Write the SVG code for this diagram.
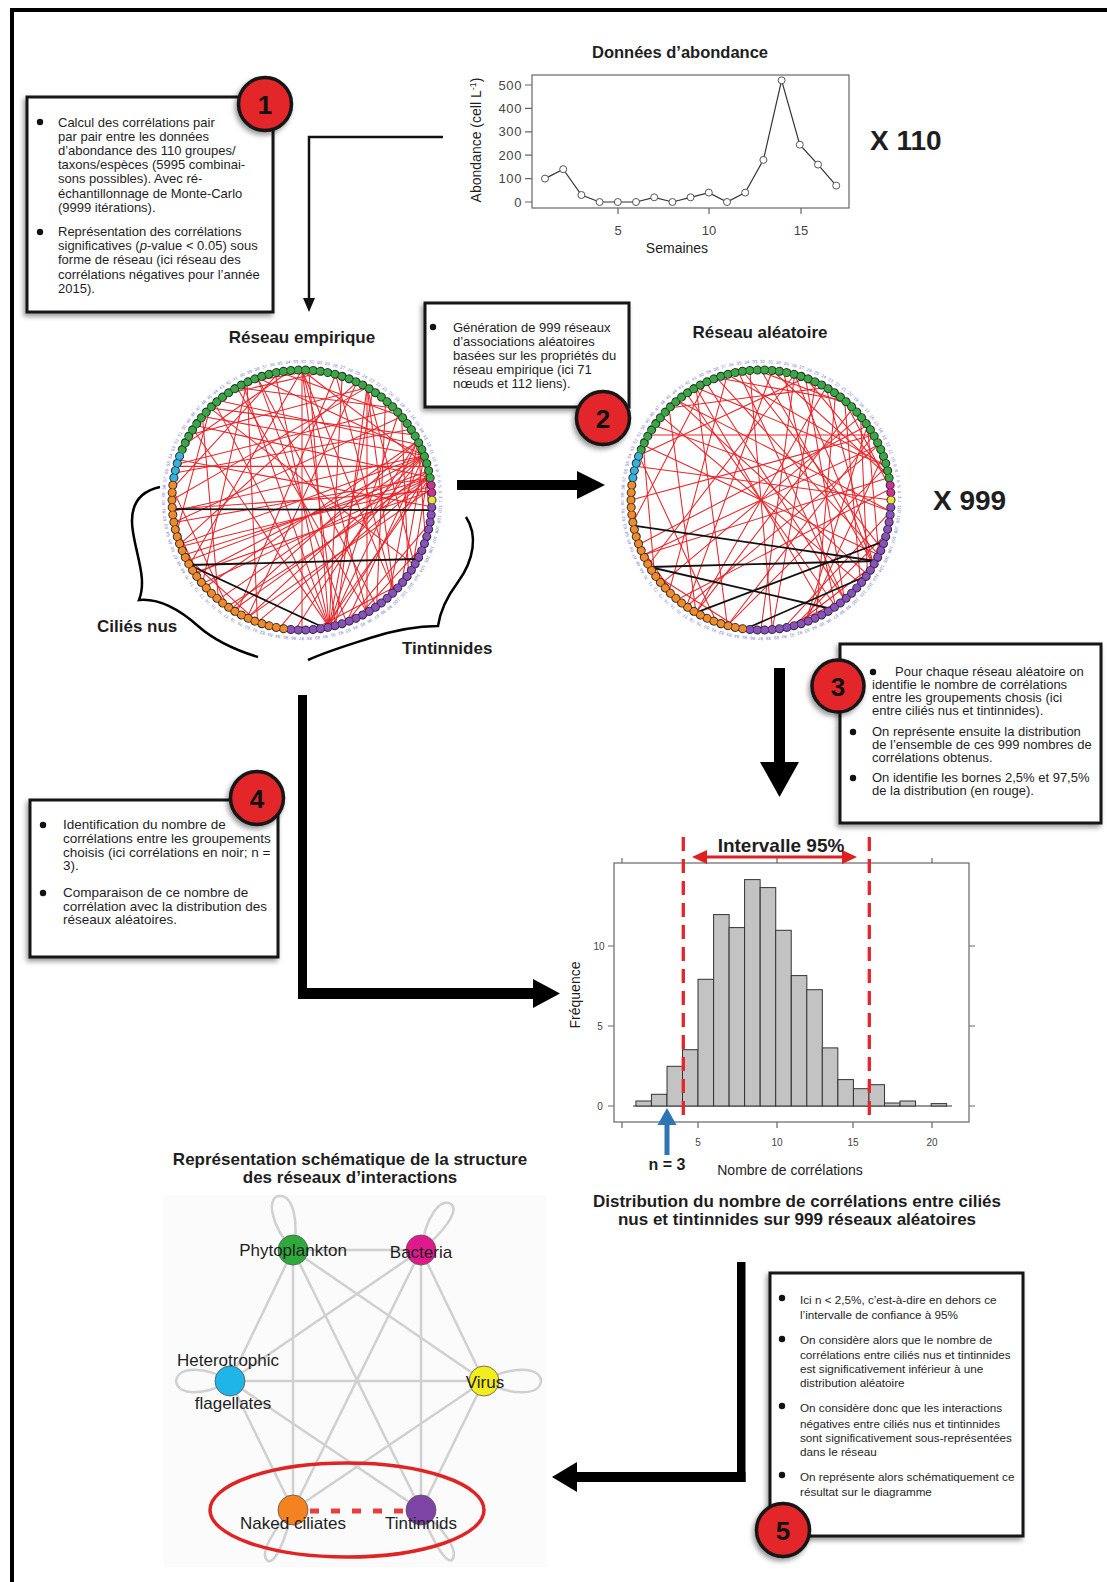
<svg xmlns="http://www.w3.org/2000/svg" width="1107" height="1582" viewBox="0 0 1107 1582">
<style>
.t{font-family:"Liberation Sans",Arial,sans-serif;fill:#1e1e1e}
.b{font-weight:bold}
.bx{fill:#fff;stroke:#151515;stroke-width:3}
.bul{fill:#111}
.bc{fill:#e3252b;stroke:#151515;stroke-width:3.5}
.bn{font-family:"Liberation Sans",Arial,sans-serif;font-weight:bold;font-size:26px;fill:#111;text-anchor:middle}
.red{stroke:#e8262b;stroke-width:1.05;fill:none}
.blk{stroke:#111;stroke-width:1.8}
.thick{fill:#000}
.sg{stroke:#d0d0d0;stroke-width:2.5;fill:none}
.ax{stroke:#666;stroke-width:1.2;fill:none}
.tk{font-family:"Liberation Sans",Arial,sans-serif;fill:#444}
.dot{fill:none;stroke-linecap:round;stroke-dasharray:0.01 7.416;stroke-width:7}
</style>
<defs>
<filter id="sh" x="-15%" y="-15%" width="135%" height="135%"><feDropShadow dx="-2" dy="3" stdDeviation="2.5" flood-color="#000" flood-opacity=".4"/></filter>
<line id="c30" x1="130" y1="0" x2="112.6" y2="65"/>
<line id="c45" x1="130" y1="0" x2="91.9" y2="91.9"/>
<line id="c60" x1="130" y1="0" x2="65" y2="112.6"/>
<line id="c75" x1="130" y1="0" x2="33.6" y2="125.6"/>
<line id="c90" x1="130" y1="0" x2="0" y2="130"/>
<line id="c105" x1="130" y1="0" x2="-33.6" y2="125.6"/>
<line id="c120" x1="130" y1="0" x2="-65" y2="112.6"/>
<line id="c135" x1="130" y1="0" x2="-91.9" y2="91.9"/>
<line id="c150" x1="130" y1="0" x2="-112.6" y2="65"/>
<line id="c165" x1="130" y1="0" x2="-125.6" y2="33.6"/>
<line id="c180" x1="130" y1="0" x2="-130" y2="0"/>
<path id="lp" d="M137,0A137,137 0 1,1 -137,0A137,137 0 1,1 137,0" fill="none"/>
<g id="ring">
<circle r="130" pathLength="110" fill="none" stroke="#2d2d2d" stroke-width="9" stroke-linecap="round" stroke-dasharray="0.01 0.99"/>
<path class="dot" stroke="#cf2f98" d="M129.8,-7.4A130,130 0 0 0 128.9,-17"/>
<path class="dot" stroke="#38a845" d="M128.1,-22.2A130,130 0 0 0 -120.95,-47.6"/>
<path class="dot" stroke="#35b3e0" d="M-122.4,-43.7A130,130 0 0 0 -128.6,-19.2"/>
<path class="dot" stroke="#f28a2a" d="M-129.2,-14.8A130,130 0 0 0 -15.8,129"/>
<path class="dot" stroke="#8a50c0" d="M-11.1,129.5A130,130 0 0 0 129.9,4.5"/>
<circle cx="130" cy="0" r="3.5" fill="#ece33a"/>
<text font-family="Liberation Sans,Arial,sans-serif" font-size="4.5" fill="#7a7acc" word-spacing="1.55"><textPath href="#lp">1 110 109 108 107 106 105 104 103 102 101 100 99 98 97 96 95 94 93 92 91 90 89 88 87 86 85 84 83 82 81 80 79 78 77 76 75 74 73 72 71 70 69 68 67 66 65 64 63 62 61 60 59 58 57 56 55 54 53 52 51 50 49 48 47 46 45 44 43 42 41 40 39 38 37 36 35 34 33 32 31 30 29 28 27 26 25 24 23 22 21 20 19 18 17 16 15 14 13 12 11 10 9 8 7 6 5 4 3 2</textPath></text>
</g>
</defs>
<rect width="1107" height="1582" fill="#fff"/>
<rect x="12" y="10" width="1120" height="1600" fill="none" stroke="#000" stroke-width="4"/>

<!-- Abundance chart -->
<g id="abundance-chart">
<text class="t b" x="680" y="58" font-size="16.5" text-anchor="middle">Données d’abondance</text>
<rect x="532" y="75" width="317" height="133" class="ax"/>
<g class="ax"><path d="M525,202H532M525,178.6H532M525,155.2H532M525,131.8H532M525,108.4H532M525,85H532M618,208V214M709,208V214M801,208V214"/></g>
<g class="tk" font-size="13" text-anchor="end" letter-spacing="0.6">
<text x="522" y="206.5">0</text><text x="522" y="183">100</text><text x="522" y="159.7">200</text><text x="522" y="136.3">300</text><text x="522" y="113">400</text><text x="522" y="89.5">500</text>
</g>
<g class="tk" font-size="13" text-anchor="middle"><text x="618" y="235">5</text><text x="709" y="235">10</text><text x="801" y="235">15</text></g>
<text class="t" x="677" y="253" font-size="14" text-anchor="middle" fill="#333">Semaines</text>
<text class="t" font-size="14" text-anchor="middle" fill="#333" transform="translate(481,140) rotate(-90)">Abondance (cell L<tspan font-size="9" dy="-5">-1</tspan><tspan dy="5">)</tspan></text>
<polyline fill="none" stroke="#333" stroke-width="1.2" points="545,178.6 563.2,169.2 581.4,195 599.6,202 617.8,202 636,202 654.2,197.3 672.4,202 690.6,197.3 708.8,192.6 727,202 745.2,192.6 763.4,159.9 781.6,80.3 799.8,144.7 818,164.6 836.2,185.6"/>
<g fill="#fff" stroke="#555" stroke-width="1">
<circle cx="545" cy="178.6" r="3.5"/><circle cx="563.2" cy="169.2" r="3.5"/><circle cx="581.4" cy="195" r="3.5"/><circle cx="599.6" cy="202" r="3.5"/><circle cx="617.8" cy="202" r="3.5"/><circle cx="636" cy="202" r="3.5"/><circle cx="654.2" cy="197.3" r="3.5"/><circle cx="672.4" cy="202" r="3.5"/><circle cx="690.6" cy="197.3" r="3.5"/><circle cx="708.8" cy="192.6" r="3.5"/><circle cx="727" cy="202" r="3.5"/><circle cx="745.2" cy="192.6" r="3.5"/><circle cx="763.4" cy="159.9" r="3.5"/><circle cx="781.6" cy="80.3" r="3.5"/><circle cx="799.8" cy="144.7" r="3.5"/><circle cx="818" cy="164.6" r="3.5"/><circle cx="836.2" cy="185.6" r="3.5"/>
</g>
<text class="t b" x="870" y="150" font-size="28" fill="#111">X 110</text>
</g>

<!-- Box 1 -->
<g id="box1">
<rect class="bx" x="27" y="97" width="246" height="215" filter="url(#sh)"/>
<circle class="bul" cx="40" cy="122" r="3.2"/><circle class="bul" cx="40" cy="232" r="3.2"/>
<g class="t" font-size="13">
<text x="58" y="126.5">Calcul des corrélations pair</text>
<text x="58" y="140.7">par pair entre les données</text>
<text x="58" y="154.9">d’abondance des 110 groupes/</text>
<text x="58" y="169.1">taxons/espèces (5995 combinai-</text>
<text x="58" y="183.3">sons possibles). Avec ré-</text>
<text x="58" y="197.5">échantillonnage de Monte-Carlo</text>
<text x="58" y="211.7">(9999 itérations).</text>
<text x="58" y="236">Représentation des corrélations</text>
<text x="58" y="250.2">significatives (<tspan font-style="italic">p</tspan>-value &lt; 0.05) sous</text>
<text x="58" y="264.4">forme de réseau (ici réseau des</text>
<text x="58" y="278.6">corrélations négatives pour l’année</text>
<text x="58" y="292.8">2015).</text>
</g>
<g filter="url(#sh)"><circle class="bc" cx="265" cy="104" r="26.5"/></g>
<text class="bn" x="265" y="113.5">1</text>
</g>

<!-- Empirical network -->
<g id="empirical-network">
<text class="t b" x="302" y="343" font-size="17" text-anchor="middle" fill="#111">Réseau empirique</text>
<g transform="translate(302,500)">
<g class="red">
<use href="#c30" transform="rotate(340)"/><use href="#c60" transform="rotate(340)"/><use href="#c90" transform="rotate(340)"/><use href="#c120" transform="rotate(340)"/><use href="#c135" transform="rotate(340)"/><use href="#c150" transform="rotate(340)"/><use href="#c165" transform="rotate(340)"/><use href="#c180" transform="rotate(340)"/>
<use href="#c45" transform="rotate(333)"/><use href="#c75" transform="rotate(333)"/><use href="#c105" transform="rotate(333)"/><use href="#c120" transform="rotate(333)"/><use href="#c150" transform="rotate(333)"/><use href="#c165" transform="rotate(333)"/>
<use href="#c45" transform="rotate(347)"/><use href="#c90" transform="rotate(347)"/><use href="#c135" transform="rotate(347)"/><use href="#c165" transform="rotate(347)"/>
<use href="#c90" transform="rotate(350)"/><use href="#c120" transform="rotate(350)"/><use href="#c135" transform="rotate(350)"/><use href="#c150" transform="rotate(350)"/><use href="#c165" transform="rotate(350)"/><use href="#c180" transform="rotate(350)"/>
<use href="#c135" transform="rotate(78)"/><use href="#c150" transform="rotate(78)"/><use href="#c165" transform="rotate(78)"/><use href="#c180" transform="rotate(78)"/>
<use href="#c120" transform="rotate(318)"/><use href="#c135" transform="rotate(303)"/><use href="#c150" transform="rotate(288)"/><use href="#c165" transform="rotate(273)"/>
<use href="#c90" transform="rotate(130)"/><use href="#c120" transform="rotate(150)"/><use href="#c135" transform="rotate(160)"/><use href="#c150" transform="rotate(170)"/><use href="#c165" transform="rotate(120)"/><use href="#c165" transform="rotate(175)"/><use href="#c105" transform="rotate(140)"/><use href="#c75" transform="rotate(185)"/><use href="#c180" transform="rotate(115)"/><use href="#c60" transform="rotate(165)"/><use href="#c120" transform="rotate(180)"/><use href="#c135" transform="rotate(110)"/>
<use href="#c150" transform="rotate(195)"/><use href="#c135" transform="rotate(192)"/><use href="#c165" transform="rotate(198)"/><use href="#c120" transform="rotate(196)"/>
<use href="#c90" transform="rotate(210)"/><use href="#c120" transform="rotate(220)"/><use href="#c105" transform="rotate(230)"/><use href="#c75" transform="rotate(240)"/><use href="#c90" transform="rotate(250)"/><use href="#c135" transform="rotate(215)"/><use href="#c60" transform="rotate(260)"/><use href="#c60" transform="rotate(205)"/><use href="#c45" transform="rotate(235)"/><use href="#c75" transform="rotate(270)"/><use href="#c105" transform="rotate(225)"/><use href="#c30" transform="rotate(245)"/>
<use href="#c90" transform="rotate(300)"/><use href="#c105" transform="rotate(300)"/><use href="#c120" transform="rotate(300)"/><use href="#c135" transform="rotate(300)"/><use href="#c135" transform="rotate(270)"/><use href="#c150" transform="rotate(270)"/><use href="#c165" transform="rotate(270)"/><use href="#c180" transform="rotate(270)"/><use href="#c165" transform="rotate(250)"/><use href="#c180" transform="rotate(250)"/><use href="#c120" transform="rotate(285)"/><use href="#c75" transform="rotate(320)"/><use href="#c105" transform="rotate(310)"/><use href="#c165" transform="rotate(225)"/><use href="#c180" transform="rotate(240)"/>
<use href="#c45" transform="rotate(20)"/><use href="#c60" transform="rotate(10)"/><use href="#c45" transform="rotate(40)"/>
<use href="#c45" transform="rotate(110)"/><use href="#c60" transform="rotate(125)"/><use href="#c30" transform="rotate(140)"/>
<use href="#c180" transform="rotate(176)"/><use href="#c120" transform="rotate(355)"/><use href="#c150" transform="rotate(356)"/><use href="#c165" transform="rotate(354)"/>
</g>
<g class="blk">
<line x1="-129.7" y1="9.1" x2="129.6" y2="10.2"/>
<line x1="-112.6" y1="65" x2="115.8" y2="59"/>
<line x1="-112.6" y1="65" x2="22.6" y2="128"/>
</g>
<use href="#ring"/>
</g>
<path d="M160,487C137,492 129,508 133,532C137,558 147,580 139,600C160,598 180,610 198,626C215,641 235,650 258,657" fill="none" stroke="#000" stroke-width="2.5"/>
<path d="M466,517C478,535 474,560 458,582C446,598 440,612 438,626C420,626 395,630 370,638C345,646 325,652 308,660" fill="none" stroke="#000" stroke-width="2.5"/>
<text class="t b" x="97" y="632" font-size="17" fill="#111">Ciliés nus</text>
<text class="t b" x="402" y="654" font-size="17" fill="#111">Tintinnides</text>
</g>

<!-- Box 2 -->
<g id="box2">
<rect class="bx" x="425" y="303" width="204" height="104" filter="url(#sh)"/>
<circle class="bul" cx="433" cy="327" r="3.2"/>
<g class="t" font-size="13">
<text x="453" y="332">Génération de 999 réseaux</text>
<text x="453" y="346">d’associations aléatoires</text>
<text x="453" y="360">basées sur les propriétés du</text>
<text x="453" y="374">réseau empirique (ici 71</text>
<text x="453" y="388">nœuds et 112 liens).</text>
</g>
<g filter="url(#sh)"><circle class="bc" cx="603" cy="418" r="26.5"/></g>
<text class="bn" x="603" y="427.5">2</text>
</g>

<!-- Random network -->
<g id="random-network">
<text class="t b" x="760" y="338" font-size="17" text-anchor="middle" fill="#111">Réseau aléatoire</text>
<g transform="translate(761,500)">
<g class="red">
<use href="#c90" transform="rotate(200)"/><use href="#c120" transform="rotate(210)"/><use href="#c150" transform="rotate(215)"/><use href="#c75" transform="rotate(225)"/><use href="#c135" transform="rotate(230)"/><use href="#c105" transform="rotate(240)"/><use href="#c165" transform="rotate(245)"/><use href="#c60" transform="rotate(250)"/><use href="#c90" transform="rotate(255)"/><use href="#c120" transform="rotate(262)"/><use href="#c45" transform="rotate(268)"/><use href="#c75" transform="rotate(275)"/><use href="#c135" transform="rotate(280)"/><use href="#c105" transform="rotate(285)"/><use href="#c60" transform="rotate(290)"/><use href="#c150" transform="rotate(295)"/><use href="#c90" transform="rotate(300)"/><use href="#c120" transform="rotate(305)"/><use href="#c45" transform="rotate(310)"/><use href="#c165" transform="rotate(315)"/><use href="#c75" transform="rotate(320)"/><use href="#c105" transform="rotate(325)"/><use href="#c135" transform="rotate(330)"/><use href="#c150" transform="rotate(335)"/><use href="#c90" transform="rotate(340)"/><use href="#c120" transform="rotate(345)"/><use href="#c165" transform="rotate(350)"/><use href="#c135" transform="rotate(355)"/>
<use href="#c180" transform="rotate(205)"/><use href="#c180" transform="rotate(235)"/><use href="#c180" transform="rotate(265)"/><use href="#c180" transform="rotate(300)"/><use href="#c180" transform="rotate(320)"/><use href="#c180" transform="rotate(335)"/>
<use href="#c90" transform="rotate(110)"/><use href="#c105" transform="rotate(120)"/><use href="#c120" transform="rotate(135)"/><use href="#c135" transform="rotate(150)"/><use href="#c165" transform="rotate(160)"/><use href="#c75" transform="rotate(170)"/><use href="#c150" transform="rotate(180)"/><use href="#c150" transform="rotate(125)"/><use href="#c135" transform="rotate(105)"/><use href="#c60" transform="rotate(145)"/><use href="#c45" transform="rotate(100)"/><use href="#c30" transform="rotate(130)"/>
<use href="#c60" transform="rotate(15)"/><use href="#c45" transform="rotate(30)"/><use href="#c75" transform="rotate(5)"/><use href="#c30" transform="rotate(50)"/>
<use href="#c150" transform="rotate(260)"/><use href="#c120" transform="rotate(270)"/><use href="#c165" transform="rotate(285)"/><use href="#c135" transform="rotate(250)"/><use href="#c165" transform="rotate(230)"/><use href="#c90" transform="rotate(310)"/><use href="#c60" transform="rotate(325)"/><use href="#c180" transform="rotate(240)"/><use href="#c120" transform="rotate(290)"/><use href="#c180" transform="rotate(220)"/><use href="#c165" transform="rotate(195)"/>
</g>
<g class="blk">
<line x1="-127.4" y1="25.7" x2="114.8" y2="61"/>
<line x1="-111.4" y1="67" x2="114.8" y2="61"/>
<line x1="-111.4" y1="67" x2="70.8" y2="109"/>
<line x1="-65" y1="112.6" x2="123.4" y2="41"/>
<line x1="-15.8" y1="129" x2="105.7" y2="75.7"/>
</g>
<use href="#ring"/>
</g>
<text class="t b" x="933" y="510" font-size="28" fill="#111">X 999</text>
</g>

<!-- Box 3 -->
<g id="box3">
<rect class="bx" x="840" y="644" width="261" height="179" filter="url(#sh)"/>
<circle class="bul" cx="873" cy="672" r="3.2"/><circle class="bul" cx="853" cy="732" r="3.2"/><circle class="bul" cx="853" cy="778" r="3.2"/>
<g class="t" font-size="13">
<text x="895" y="676">Pour chaque réseau aléatoire on</text>
<text x="872" y="689">identifie le nombre de corrélations</text>
<text x="872" y="702">entre les groupements chosis (ici</text>
<text x="872" y="715">entre ciliés nus et tintinnides).</text>
<text x="872" y="736">On représente ensuite la distribution</text>
<text x="872" y="749">de l’ensemble de ces 999 nombres de</text>
<text x="872" y="762">corrélations obtenus.</text>
<text x="872" y="782">On identifie les bornes 2,5% et 97,5%</text>
<text x="872" y="795">de la distribution (en rouge).</text>
</g>
<g filter="url(#sh)"><circle class="bc" cx="838" cy="686" r="26"/></g>
<text class="bn" x="838" y="695.5">3</text>
</g>

<!-- Box 4 -->
<g id="box4">
<rect class="bx" x="30" y="800" width="248" height="157" filter="url(#sh)"/>
<circle class="bul" cx="43" cy="825" r="3.2"/><circle class="bul" cx="43" cy="893" r="3.2"/>
<g class="t" font-size="13.5">
<text x="63" y="829">Identification du nombre de</text>
<text x="63" y="843">corrélations entre les groupements</text>
<text x="63" y="857">choisis (ici corrélations en noir; n =</text>
<text x="63" y="870">3).</text>
<text x="63" y="897">Comparaison de ce nombre de</text>
<text x="63" y="911">corrélation avec la distribution des</text>
<text x="63" y="924">réseaux aléatoires.</text>
</g>
<g filter="url(#sh)"><circle class="bc" cx="257" cy="798" r="26.5"/></g>
<text class="bn" x="257" y="807.5">4</text>
</g>

<!-- Histogram -->
<g id="histogram">
<rect x="614" y="863" width="355" height="259" class="ax"/>
<g class="ax"><path d="M608,1106H614M608,1026H614M608,946H614M969,1106H975M969,1026H975M969,946H975M622,1122V1128M698,1122V1128M777,1122V1128M853,1122V1128M932,1122V1128M622,863V858M777,863V858M932,863V858"/></g>
<g class="tk" font-size="10" text-anchor="middle"><text x="600" y="1110">0</text><text x="600" y="1030">5</text><text x="599" y="950">10</text>
<text x="698" y="1146">5</text><text x="777" y="1146">10</text><text x="853" y="1146">15</text><text x="932" y="1146">20</text></g>
<line x1="633" y1="1106" x2="952" y2="1106" stroke="#333" stroke-width="1.2"/>
<g fill="#c3c3c3" stroke="#333" stroke-width="1">
<rect x="635.9" y="1101" width="15.53" height="5"/>
<rect x="651.4" y="1094.3" width="15.53" height="11.7"/>
<rect x="667" y="1066.3" width="15.53" height="39.7"/>
<rect x="682.5" y="1049.7" width="15.53" height="56.3"/>
<rect x="698" y="979.3" width="15.53" height="126.7"/>
<rect x="713.6" y="914.6" width="15.53" height="191.4"/>
<rect x="729.1" y="927.6" width="15.53" height="178.4"/>
<rect x="744.6" y="879.6" width="15.53" height="226.4"/>
<rect x="760.2" y="887.6" width="15.53" height="218.4"/>
<rect x="775.7" y="930.3" width="15.53" height="175.7"/>
<rect x="791.3" y="975.6" width="15.53" height="130.4"/>
<rect x="806.8" y="989.7" width="15.53" height="116.3"/>
<rect x="822.3" y="1047.9" width="15.53" height="58.1"/>
<rect x="837.9" y="1079.6" width="15.53" height="26.4"/>
<rect x="853.4" y="1088.7" width="15.53" height="17.3"/>
<rect x="869" y="1084.7" width="15.53" height="21.3"/>
<rect x="884.5" y="1103" width="15.53" height="3"/>
<rect x="900" y="1101" width="15.53" height="5"/>
<rect x="931.1" y="1103.6" width="15.53" height="2.4"/>
</g>
<g stroke="#e5242b" stroke-width="3.3" stroke-dasharray="14 8"><line x1="683.3" y1="837" x2="683.3" y2="1120"/><line x1="869.3" y1="837" x2="869.3" y2="1120"/></g>
<line x1="702" y1="857" x2="847" y2="857" stroke="#e02020" stroke-width="3"/>
<polygon points="692,857 707,850 707,864" fill="#e02020"/>
<polygon points="857,857 842,850 842,864" fill="#e02020"/>
<text class="t b" x="781" y="852" font-size="19" text-anchor="middle" fill="#111">Intervalle 95%</text>
<text class="t" font-size="14" text-anchor="middle" fill="#333" transform="translate(580,995) rotate(-90)">Fréquence</text>
<text class="t" x="790" y="1175" font-size="14" text-anchor="middle" fill="#333">Nombre de corrélations</text>
<rect x="664.5" y="1123" width="5" height="32" fill="#2f74b5"/>
<polygon points="657.5,1125 676.5,1125 667,1108" fill="#2f74b5"/>
<text class="t b" x="667" y="1170" font-size="16" text-anchor="middle" fill="#111">n = 3</text>
<text class="t b" x="797" y="1207" font-size="17" text-anchor="middle" fill="#111">Distribution du nombre de corrélations entre ciliés</text>
<text class="t b" x="797" y="1225" font-size="17" text-anchor="middle" fill="#111">nus et tintinnides sur 999 réseaux aléatoires</text>
</g>

<!-- Schematic -->
<g id="schematic">
<text class="t b" x="350" y="1165" font-size="17" text-anchor="middle" fill="#111">Représentation schématique de la structure</text>
<text class="t b" x="350" y="1183" font-size="17" text-anchor="middle" fill="#111">des réseaux d’interactions</text>
<rect x="163" y="1195" width="384" height="372" fill="#fbfbfb"/>
<g class="sg">
<path d="M293,1250L421,1250M293,1250L230,1381M293,1250L293,1510M293,1250L421,1510M293,1250L484,1381M421,1250L230,1381M421,1250L293,1510M421,1250L421,1510M421,1250L484,1381M230,1381L484,1381M230,1381L293,1510M230,1381L421,1510M484,1381L293,1510M484,1381L421,1510"/>
<path d="M293,1250C270,1225 266,1196 280,1196C294,1196 299,1225 293,1250Z"/>
<path d="M421,1250C426,1216 440,1198 451,1204C460,1211 442,1234 421,1250Z"/>
<path d="M230,1381C205,1366 178,1366 176,1381C178,1396 205,1396 230,1381Z"/>
<path d="M484,1381C510,1366 540,1366 541,1381C540,1396 510,1396 484,1381Z"/>
<path d="M293,1510C286,1536 276,1564 268,1561C259,1555 272,1530 293,1510Z"/>
<path d="M421,1510C430,1536 445,1564 452,1560C459,1551 445,1530 421,1510Z"/>
</g>
<line x1="310" y1="1511" x2="407" y2="1511" stroke="#e5403f" stroke-width="5" stroke-dasharray="9 12"/>
<g stroke="#555" stroke-width="0.8">
<circle cx="293" cy="1250" r="15" fill="#2eaa3c"/>
<circle cx="421" cy="1250" r="15" fill="#e0198c"/>
<circle cx="230" cy="1381" r="15" fill="#1fb5e8"/>
<circle cx="484" cy="1381" r="15" fill="#f3ec1e"/>
<circle cx="293" cy="1510" r="15" fill="#f58220"/>
<circle cx="421" cy="1510" r="15" fill="#7d44a6"/>
</g>
<g class="t" font-size="17" text-anchor="middle" fill="#333">
<text x="293" y="1256">Phytoplankton</text>
<text x="421" y="1258">Bacteria</text>
<text x="228" y="1366">Heterotrophic</text>
<text x="233" y="1409">flagellates</text>
<text x="485" y="1388">Virus</text>
<text x="293" y="1529">Naked ciliates</text>
<text x="421" y="1529">Tintinnids</text>
</g>
<ellipse cx="347" cy="1510" rx="137" ry="47" fill="none" stroke="#e02424" stroke-width="3.5"/>
</g>

<!-- Box 5 -->
<g id="box5">
<rect class="bx" x="770" y="1273" width="253" height="263" filter="url(#sh)"/>
<circle class="bul" cx="782" cy="1298" r="3.2"/><circle class="bul" cx="782" cy="1339" r="3.2"/><circle class="bul" cx="782" cy="1406" r="3.2"/><circle class="bul" cx="782" cy="1475" r="3.2"/>
<g class="t" font-size="11.7">
<text x="800" y="1304">Ici n &lt; 2,5%, c’est-à-dire en dehors ce</text>
<text x="800" y="1319">l’intervalle de confiance à 95%</text>
<text x="800" y="1344">On considère alors que le nombre de</text>
<text x="800" y="1359">corrélations entre ciliés nus et tintinnides</text>
<text x="800" y="1373">est  significativement inférieur à une</text>
<text x="800" y="1387">distribution aléatoire</text>
<text x="800" y="1412">On considère donc que les interactions</text>
<text x="800" y="1428">négatives entre ciliés nus et tintinnides</text>
<text x="800" y="1442">sont significativement sous-représentées</text>
<text x="800" y="1456">dans le réseau</text>
<text x="800" y="1481">On représente alors schématiquement ce</text>
<text x="800" y="1496">résultat sur le diagramme</text>
</g>
<g filter="url(#sh)"><circle class="bc" cx="783" cy="1530" r="26.5"/></g>
<text class="bn" x="783" y="1539.5">5</text>
</g>

<!-- Connectors -->
<g id="connectors">
<path d="M443,137H309V300" fill="none" stroke="#111" stroke-width="2.5"/>
<polygon points="303,298 315,298 309,312" fill="#111"/>
<rect class="thick" x="457" y="480" width="121" height="10"/>
<polygon class="thick" points="577,471 605,485 577,499"/>
<rect class="thick" x="774" y="668" width="11" height="96"/>
<polygon class="thick" points="760,762 799,762 779.5,797"/>
<rect class="thick" x="298" y="695" width="9" height="304"/>
<rect class="thick" x="298" y="988" width="236" height="11"/>
<polygon class="thick" points="533,979 560,993.5 533,1008"/>
<rect class="thick" x="737" y="1262" width="8.5" height="220"/>
<rect class="thick" x="576" y="1472" width="169.5" height="10"/>
<polygon class="thick" points="577,1462 552,1477 577,1492"/>
</g>
</svg>
